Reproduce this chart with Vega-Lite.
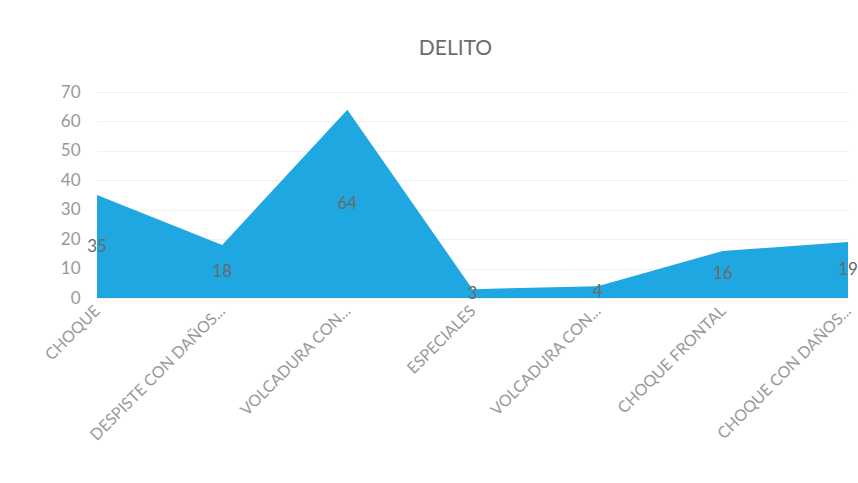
{
  "$schema": "https://vega.github.io/schema/vega-lite/v6.json",
  "width": 751,
  "height": 206,
  "autosize": {"type": "none"},
  "padding": {"left": 97, "top": 92, "right": 10, "bottom": 185},
  "background": "white",
  "title": {
    "text": "DELITO",
    "fontSize": 21,
    "font": "Lato",
    "fontWeight": "normal",
    "color": "#6b6b6b",
    "offset": 24,
    "dx": -17
  },
  "config": {
    "view": {"stroke": null},
    "font": "Lato",
    "axisY": {
      "values": [0, 10, 20, 30, 40, 50, 60, 70],
      "labelOverlap": false,
      "labelFontSize": 17,
      "labelColor": "#999999",
      "labelPadding": 17,
      "ticks": false,
      "domain": false,
      "gridColor": "#f0f0f0",
      "gridWidth": 1,
      "title": null
    }
  },
  "data": {
    "values": [
      {"n": 1, "cat": "CHOQUE", "valor": 35},
      {"n": 2, "cat": "DESPISTE CON DAÑOS...", "valor": 18},
      {"n": 3, "cat": "VOLCADURA CON...", "valor": 64},
      {"n": 4, "cat": "ESPECIALES", "valor": 3},
      {"n": 5, "cat": "VOLCADURA CON...", "valor": 4},
      {"n": 6, "cat": "CHOQUE FRONTAL", "valor": 16},
      {"n": 7, "cat": "CHOQUE CON DAÑOS...", "valor": 19}
    ]
  },
  "encoding": {
    "x": {
      "field": "n",
      "type": "ordinal",
      "scale": {"type": "point", "padding": 0},
      "axis": {
        "title": null,
        "labelAngle": -45,
        "labelAlign": "right",
        "labelBaseline": "middle",
        "labelFontSize": 16,
        "labelColor": "#999999",
        "labelPadding": 10,
        "labelOverlap": false,
        "labelLimit": 400,
        "ticks": false,
        "domain": false,
        "grid": false,
        "labelExpr": "['CHOQUE','DESPISTE CON DAÑOS...','VOLCADURA CON...','ESPECIALES','VOLCADURA CON...','CHOQUE FRONTAL','CHOQUE CON DAÑOS...'][datum.value - 1]"
      }
    }
  },
  "layer": [
    {
      "mark": {"type": "area", "color": "#1ea7e1", "opacity": 1},
      "encoding": {
        "y": {
          "field": "valor",
          "type": "quantitative",
          "title": null,
          "scale": {"domain": [0, 70], "nice": false}
        }
      }
    },
    {
      "transform": [{"calculate": "datum.valor / 2", "as": "mitad"}],
      "mark": {"type": "text", "fontSize": 17, "color": "#6a6a6a"},
      "encoding": {
        "y": {"field": "mitad", "type": "quantitative", "title": null},
        "text": {"field": "valor", "type": "quantitative"}
      }
    }
  ]
}
